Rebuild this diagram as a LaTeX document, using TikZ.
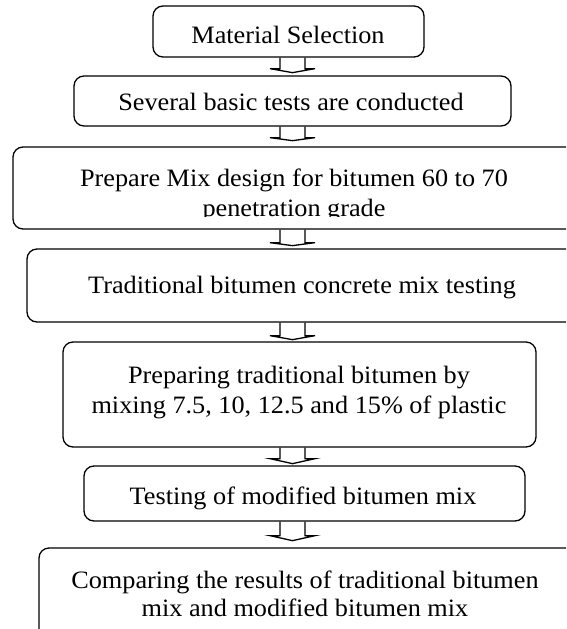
\documentclass[tikz,border=0pt]{standalone}
\usepackage{fontspec}
\setmainfont{Liberation Serif}[FakeStretch=1.05]
\tikzset{
  box/.style={draw, line width=1.3pt, rounded corners=10pt, inner sep=0pt},
  txt/.style={font=\fontsize{25}{30}\selectfont, inner sep=0pt, anchor=base},
  blkarrow/.style={draw, line width=1.3pt, line join=miter}
}
\newcommand\blk[3]{%
  \draw[blkarrow] (#1.south -| ax) ++(-12.5,0) -- ++(0,#2) -- ++(-10,0)
    -- ++(22.5,#3) -- ++(22.5,-#3) -- ++(-10,0) -- ++(0,-#2);}
\begin{document}
\begin{tikzpicture}[x=1pt,y=-1pt]
\useasboundingbox (0,0) rectangle (566,629);
\clip (0,0) rectangle (566,629);
\coordinate (ax) at (292.5,0);
% boxes
\node[box, minimum width=271pt, minimum height=51pt] (b1) at (288.5,31.5) {};
\node[box, minimum width=437pt, minimum height=50pt] (b2) at (292.5,101) {};
\node[box, minimum width=565pt, minimum height=82pt] (b3) at (295.5,188) {};
\node[box, minimum width=551pt, minimum height=73pt] (b4) at (302.5,285.5) {};
\node[box, minimum width=473pt, minimum height=105pt] (b5) at (299.5,394.5) {};
\node[box, minimum width=441pt, minimum height=55pt] (b6) at (304.5,493.5) {};
\node[box, minimum width=539pt, minimum height=92pt] (b7) at (308.5,594) {};
% texts
\node[txt] (t1) at (288,43.5) {Material Selection};
\node[txt] (t2) at (291,110) {Several basic tests are conducted};
\node[txt] (t3a) at (294,186) {Prepare Mix design for bitumen 60 to 70};
\begin{scope}
  \clip (0,0) rectangle (566,216.5);
  \node[txt] (t3b) at (294,216) {penetration grade};
\end{scope}
\node[txt] (t4) at (302,293) {Traditional bitumen concrete mix testing};
\node[txt] (t5a) at (299,383) {Preparing traditional bitumen by};
\node[txt] (t5b) at (299,413) {mixing 7.5, 10, 12.5 and 15\% of plastic};
\node[txt] (t6) at (303,504) {Testing of modified bitumen mix};
\node[txt] (t7a) at (305,588) {Comparing the results of traditional bitumen};
\node[txt] (t7b) at (305,616) {mix and modified bitumen mix};
% block arrows
\blk{b1}{11}{4}
\blk{b2}{11}{3}
\blk{b3}{13}{3}
\blk{b4}{13}{4}
\blk{b5}{11}{5}
\blk{b6}{14}{5}
\end{tikzpicture}
\end{document}
